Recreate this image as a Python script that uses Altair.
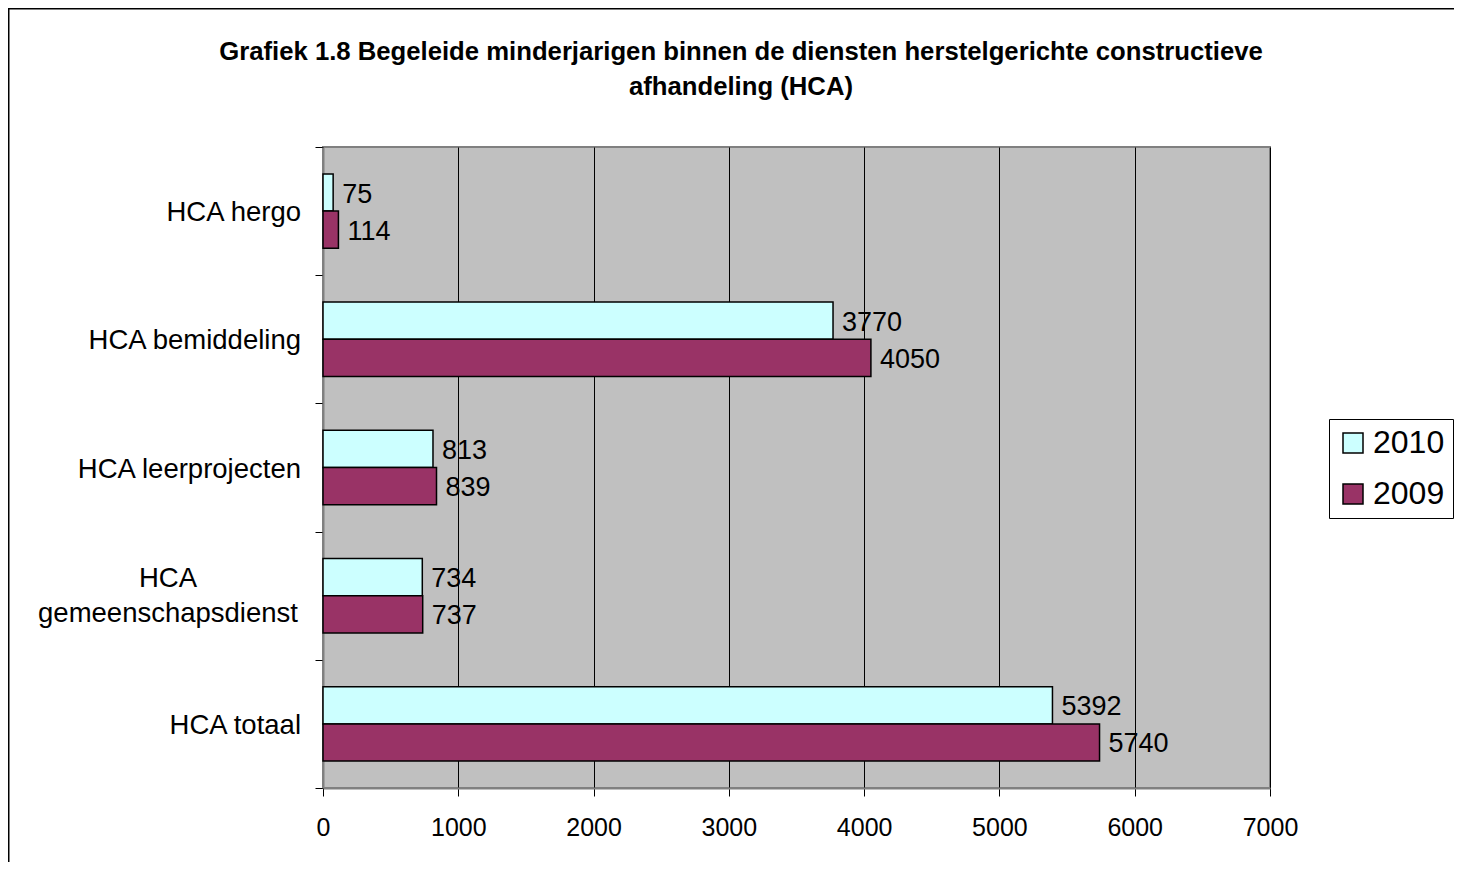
import altair as alt
import pandas as pd

CATEGORIES = ["HCA hergo", "HCA bemiddeling", "HCA leerprojecten",
              "HCA gemeenschapsdienst", "HCA totaal"]
LABELS = ["HCA hergo", "HCA bemiddeling", "HCA leerprojecten",
          "HCA\ngemeenschapsdienst", "HCA totaal"]
YEARS = ["2010", "2009"]
VALUES_2010 = [75, 3770, 813, 734, 5392]
VALUES_2009 = [114, 4050, 839, 737, 5740]
X_TICKS = [0, 1000, 2000, 3000, 4000, 5000, 6000, 7000]
TITLE_LINES = ["Grafiek 1.8 Begeleide minderjarigen binnen de diensten herstelgerichte constructieve",
               "afhandeling (HCA)"]
COLORS = ["#CCFFFF", "#993366"]

FONT = "Liberation Sans"

rows = []
for c, v in zip(CATEGORIES, VALUES_2010):
    rows.append({"cat": c, "year": "2010", "value": v})
for c, v in zip(CATEGORIES, VALUES_2009):
    rows.append({"cat": c, "year": "2009", "value": v})
df = pd.DataFrame(rows)

lab_df = pd.DataFrame({"cat": CATEGORIES, "label": LABELS,
                       "multi": ["\n" in l for l in LABELS]})

W, H = 947, 641

# padded band scale for the bars
y_bar = alt.Y("cat:N", sort=CATEGORIES,
              scale=alt.Scale(paddingInner=0.42, paddingOuter=0.21), axis=None)
# unpadded band scale carrying the category axis (ticks at band boundaries)
y_axis = alt.Y("cat:N", sort=CATEGORIES,
               scale=alt.Scale(paddingInner=0, paddingOuter=0),
               axis=alt.Axis(labels=False, title=None, ticks=True, tickSize=8,
                             tickBand="extent", tickColor="#000000", tickWidth=1,
                             domainColor="#808080", domainWidth=2, grid=False))
yoff = alt.YOffset("year:N", sort=YEARS, scale=alt.Scale(paddingInner=0, paddingOuter=0))
x_enc = alt.X("value:Q", scale=alt.Scale(domain=[0, 7000], nice=False),
              axis=alt.Axis(values=X_TICKS, title=None, grid=True, gridColor="#000000",
                            gridWidth=1, tickSize=8, tickColor="#000000", tickWidth=1,
                            domainColor="#808080", domainWidth=2,
                            labelFontSize=25, labelFont=FONT, labelColor="#000000",
                            labelPadding=19, labelFlush=False, labelOverlap=False,
                            format="d"))

bars = alt.Chart(df).mark_bar(stroke="#000000", strokeWidth=1.5).encode(
    x=x_enc,
    y=y_bar,
    yOffset=yoff,
    color=alt.Color("year:N", sort=YEARS,
                    scale=alt.Scale(domain=YEARS, range=COLORS),
                    legend=alt.Legend(title=None, orient="none", legendX=1006, legendY=272,
                                      direction="vertical",
                                      symbolType="square", symbolSize=400,
                                      symbolStrokeColor="#000000", symbolStrokeWidth=1.5,
                                      symbolOpacity=1,
                                      labelFontSize=32, labelFont=FONT, labelColor="#000000",
                                      labelOffset=4, rowPadding=19, padding=8,
                                      strokeColor="#000000", fillColor="#FFFFFF")),
)

values = alt.Chart(df).mark_text(align="left", baseline="middle", dx=9, dy=2,
                                 fontSize=27, font=FONT, color="#000000").encode(
    x=alt.X("value:Q"),
    y=y_bar,
    yOffset=yoff,
    text=alt.Text("value:Q", format="d"),
)

ylabels = alt.Chart(lab_df).transform_filter("!datum.multi").mark_text(
    align="right", baseline="middle", dy=2, fontSize=27.5, font=FONT, color="#000000").encode(
    x=alt.value(-22),
    y=y_axis,
    text="label:N",
)

ylabels_multi = alt.Chart(lab_df).transform_filter("datum.multi").mark_text(
    align="center", baseline="middle", fontSize=27.5, font=FONT, color="#000000",
    lineBreak="\n", lineHeight=35, dy=-16.5).encode(
    x=alt.value(-155),
    y=alt.Y("cat:N", sort=CATEGORIES),
    text="label:N",
)

title1 = alt.Chart(pd.DataFrame({"t": [TITLE_LINES[0]]})).mark_text(
    align="center", baseline="middle", fontSize=25.7, fontWeight="bold", font=FONT,
    color="#000000").encode(x=alt.value(418), y=alt.value(-95), text="t:N")
title2 = alt.Chart(pd.DataFrame({"t": [TITLE_LINES[1]]})).mark_text(
    align="center", baseline="middle", fontSize=25.7, fontWeight="bold", font=FONT,
    color="#000000").encode(x=alt.value(418), y=alt.value(-60), text="t:N")

frame = alt.Chart(pd.DataFrame({"f": [0]})).mark_rect(
    fillOpacity=0, stroke="#000000", strokeWidth=1.5).encode(
    x=alt.value(-314.25), x2=alt.value(1400), y=alt.value(-138.25), y2=alt.value(900))

bar_layers = alt.layer(bars, values)
label_layers = alt.layer(ylabels, ylabels_multi)

chart = alt.layer(frame, bar_layers, label_layers, title1, title2).resolve_scale(
    y="independent", yOffset="independent"
).properties(
    width=W, height=H,
    autosize=alt.AutoSizeParams(type="none"),
    padding={"left": 315, "top": 139, "right": 184, "bottom": 74},
    background="#FFFFFF",
).configure_view(fill="#C0C0C0", stroke="#808080", strokeWidth=2)

chart.save("out.html", embed_options={"renderer": "svg", "actions": False})
